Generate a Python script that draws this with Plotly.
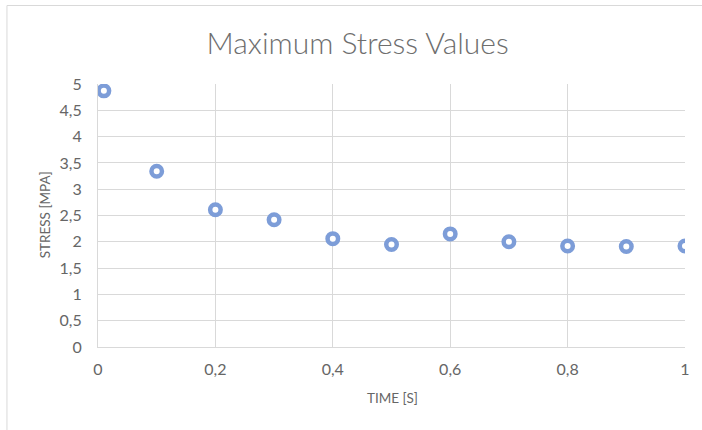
import plotly.graph_objects as go

time_s = [0.01, 0.1, 0.2, 0.3, 0.4, 0.5, 0.6, 0.7, 0.8, 0.9, 1.0]
stress_mpa = [4.87, 3.34, 2.61, 2.42, 2.06, 1.95, 2.15, 2.0, 1.92, 1.91, 1.92]

title_text = "Maximum Stress Values"
x_title = "TIME [S]"
y_title = "STRESS [MPA]"

GREY = "#666666"
GRID = "#d9d9d9"
FONT = "Lato"

fig = go.Figure()
fig.add_trace(go.Scatter(
    x=time_s, y=stress_mpa, mode="markers",
    marker=dict(size=10.5, color="white", symbol="circle",
                line=dict(color="#7D9DD8", width=4.5)),
    showlegend=False, hoverinfo="x+y",
))

W, H = 702, 430
L, R, T, B = 98, 14, 84, 83
pw, ph = W - L - R, H - T - B

def px_x(px):
    return (px - L) / pw

def px_y(py):
    return (H - B - py) / ph

fig.update_layout(
    width=W, height=H,
    margin=dict(l=L, r=R, t=T, b=B),
    paper_bgcolor="white", plot_bgcolor="white",
    separators=", ",
    font=dict(family=FONT, color=GREY),
    title=dict(text=title_text, x=px_x(359), xref="paper", xanchor="center",
               y=1 - 43 / H, yanchor="middle",
               font=dict(family=FONT, size=30, color="#6e6e6e", weight=300)),
    xaxis=dict(range=[0, 1], dtick=0.2, tick0=0, showgrid=True, gridcolor=GRID,
               gridwidth=1, zeroline=False, showline=True, linecolor=GRID,
               ticks="", ticklabelstandoff=8,
               tickfont=dict(family=FONT, size=16, color=GREY), fixedrange=True),
    yaxis=dict(range=[0, 5], dtick=0.5, tick0=0, showgrid=True, gridcolor=GRID,
               gridwidth=1, zeroline=False, showline=True, linecolor=GRID,
               ticks="", ticklabelstandoff=12,
               tickfont=dict(family=FONT, size=16, color=GREY), fixedrange=True),
    annotations=[
        dict(text=x_title, xref="paper", yref="paper", x=px_x(394), y=px_y(398),
             xanchor="center", yanchor="middle", showarrow=False,
             font=dict(family=FONT, size=13.5, color=GREY)),
        dict(text=y_title, xref="paper", yref="paper", x=px_x(45), y=px_y(215),
             xanchor="center", yanchor="middle", showarrow=False, textangle=-90,
             font=dict(family=FONT, size=13.5, color=GREY)),
    ],
    shapes=[
        dict(type="rect", xref="paper", yref="paper",
             x0=px_x(6.5), x1=px_x(720), y0=px_y(450), y1=px_y(5.5),
             line=dict(color=GRID, width=1), fillcolor="rgba(0,0,0,0)", layer="below"),
    ],
)

fig.write_html("out.html", config={"displayModeBar": False},
               post_script="document.body.style.margin='0';document.body.style.overflow='hidden';")
